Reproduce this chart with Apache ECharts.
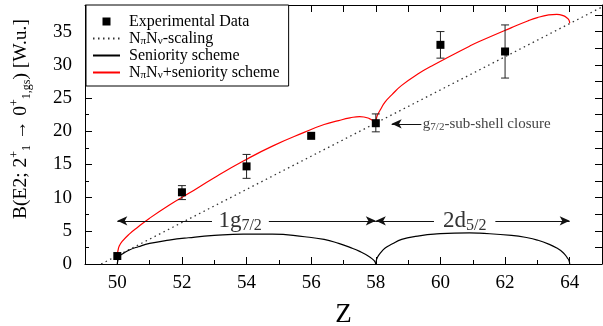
<!DOCTYPE html>
<html>
<head>
<meta charset="utf-8">
<script src="https://cdn.jsdelivr.net/npm/echarts@6/dist/echarts.min.js"></script>
<style>
  html, body { margin: 0; padding: 0; background: #fff; }
  #chart { width: 603px; height: 326px; }
</style>
</head>
<body>
<div id="chart"></div>
<script>
// ---------------- data ----------------
const expZ    = [50, 52, 54, 56, 58, 60, 62];
const expB    = [1.2, 10.8, 14.7, 19.3, 21.2, 33.0, 32.0];
const expLow  = [null, 9.7, 12.9, null, 19.9, 31.0, 28.0];
const expHigh = [null, 11.8, 16.5, null, 22.6, 35.0, 36.0];

const scalingZ = [49.5, 65];
const scalingB = [0, 38.7];

const sen1Z = [50, 50.02, 50.06, 50.15, 50.37, 50.65, 51, 51.6, 52.2, 53, 53.9, 54.8, 55.8, 56.4, 56.85, 57.2, 57.5, 57.8, 57.95, 58];
const sen1B = [0, 0.6, 1.1, 1.5, 2.1, 2.6, 3.1, 3.6, 3.95, 4.3, 4.5, 4.5, 4.1, 3.7, 3.1, 2.5, 1.9, 1.1, 0.5, 0];
const sen2Z = [58, 58.02, 58.05, 58.15, 58.29, 58.5, 58.8, 59.3, 59.8, 60.9, 61.2, 62.2, 62.7, 63, 63.35, 63.6, 63.8, 63.93, 63.98, 64];
const sen2B = [0, 0.6, 1.0, 1.7, 2.4, 3.0, 3.7, 4.2, 4.5, 4.7, 4.65, 4.3, 3.95, 3.6, 3.0, 2.4, 1.7, 0.9, 0.5, 0];

const red1B = [1.3, 2.0, 2.7, 3.4, 4.5, 5.6, 6.9, 8.85, 10.6, 13.0, 15.5, 17.75, 19.85, 21.0, 21.6, 22.0, 22.2, 21.9, 21.4, 21.1];
const red2B = [21.1, 21.9, 22.4, 23.3, 24.4, 25.5, 26.9, 28.6, 30.0, 32.8, 33.5, 35.6, 36.6, 37.1, 37.5, 37.6, 37.4, 37.0, 36.7, 36.3];

const xMajorTicks = [50, 52, 54, 56, 58, 60, 62, 64];

const NAME_EXP = 'Experimental Data';
const NAME_SCAL = 'NπNν-scaling';
const NAME_SEN = 'Seniority scheme';
const NAME_SUM = 'NπNν+seniority scheme';
// ----------------------------------------------------------------

const FONT = 'Liberation Serif';
const zip = (xs, ys) => xs.map((x, i) => [x, ys[i]]);
const errData = expZ.map((z, i) => [z, expLow[i], expHigh[i]]).filter(d => d[1] != null);

const chart = echarts.init(document.getElementById('chart'), null, { renderer: 'canvas' });

const hiddenSym = { symbol: 'circle', symbolSize: 0, showSymbol: false };
const clearItem = { color: 'rgba(0,0,0,0)', borderWidth: 0 };
const legendText = {
  fontFamily: FONT, fontSize: 16, lineHeight: 17, color: '#000',
  padding: [0, 0, 0, 4],
  rich: {
    sub: { fontFamily: FONT, fontSize: 11, lineHeight: 11, verticalAlign: 'bottom', color: '#000' }
  }
};

const option = {
  animation: false,
  backgroundColor: '#fff',
  textStyle: { fontFamily: FONT },
  grid: { left: 85, right: 1, top: 5, bottom: 62, outerBoundsMode: 'none', containLabel: false },
  legend: {
    left: 86, top: 5, orient: 'vertical',
    backgroundColor: '#fff', borderColor: '#000', borderWidth: 1, borderRadius: 0,
    padding: [8, 9, 5, 6], itemGap: 0, itemWidth: 27, itemHeight: 10,
    data: [NAME_EXP, NAME_SCAL, NAME_SEN, NAME_SUM],
    formatter: function (name) {
      if (name === NAME_SCAL) return 'N{sub|π}N{sub|ν}-scaling';
      if (name === NAME_SUM) return 'N{sub|π}N{sub|ν}+seniority scheme';
      return name;
    },
    textStyle: legendText,
    selectedMode: false
  },
  xAxis: [
    {
      type: 'value', min: 49, max: 65, position: 'bottom',
      name: 'Z', nameLocation: 'middle', nameGap: 37,
      nameTextStyle: { fontFamily: FONT, fontSize: 27, color: '#000' },
      axisLine: { lineStyle: { color: '#000', width: 1 } },
      axisTick: { inside: true, length: 7, customValues: xMajorTicks, lineStyle: { color: '#000' } },
      axisLabel: { customValues: xMajorTicks, margin: 10, fontFamily: FONT, fontSize: 19, color: '#000' },
      splitLine: { show: false }
    },
    {
      type: 'value', min: 49, max: 65, interval: 1, position: 'bottom',
      axisLine: { show: false },
      axisTick: { inside: true, length: 4, lineStyle: { color: '#000' } },
      axisLabel: { show: false }, splitLine: { show: false }
    },
    {
      type: 'value', min: 49, max: 65, interval: 1, position: 'top',
      axisLine: { lineStyle: { color: '#000', width: 1 } },
      axisTick: { inside: true, length: 7, lineStyle: { color: '#000' } },
      axisLabel: { show: false }, splitLine: { show: false }
    }
  ],
  yAxis: [
    {
      type: 'value', min: 0, max: 39, interval: 5, position: 'left',
      axisLine: { show: true, lineStyle: { color: '#000', width: 1 } },
      axisTick: { show: true, inside: true, length: 7, lineStyle: { color: '#000' } },
      minorTick: { show: true, splitNumber: 2, length: 4, lineStyle: { color: '#000' } },
      axisLabel: { margin: 13, showMaxLabel: false, fontFamily: FONT, fontSize: 19, color: '#000' },
      splitLine: { show: false }, minorSplitLine: { show: false }
    },
    {
      type: 'value', min: 0, max: 39, interval: 2.5, position: 'right',
      axisLine: { show: true, lineStyle: { color: '#000', width: 1 } },
      axisTick: { show: true, inside: true, length: 7, lineStyle: { color: '#000' } },
      axisLabel: { show: false }, splitLine: { show: false }
    }
  ],
  graphic: [
    {
      type: 'text', x: 21, y: 119, rotation: Math.PI / 2, silent: true,
      style: {
        text: 'B(E2; 2{sup|+}{sub|1} → 0{sup|+}{sub|1,gs}) [W.u.]',
        fontFamily: FONT, fontSize: 19.5, fill: '#000',
        align: 'center', verticalAlign: 'middle', lineHeight: 24,
        rich: {
          sup: { fontFamily: FONT, fontSize: 12, lineHeight: 12, verticalAlign: 'top', fill: '#000' },
          sub: { fontFamily: FONT, fontSize: 12, lineHeight: 12, verticalAlign: 'bottom', fill: '#000' }
        }
      }
    }
  ],
  series: [
    {
      name: NAME_SCAL, type: 'line', xAxisIndex: 0, yAxisIndex: 0,
      data: zip(scalingZ, scalingB), ...hiddenSym,
      lineStyle: { color: '#333', width: 1.3, type: [1.5, 3.5] },
      itemStyle: clearItem, silent: true, z: 2,
      markLine: {
        silent: true, symbolSize: [7, 10], animation: false,
        lineStyle: { color: '#111', width: 1, type: 'solid' },
        label: { show: false }, emphasis: { disabled: true },
        data: [
          [{ coord: [50, 6.5], symbol: 'arrow' }, { coord: [52.93, 6.5], symbol: 'none' }],
          [{ coord: [54.69, 6.5], symbol: 'none' }, { coord: [58, 6.5], symbol: 'arrow' }],
          [{ coord: [58, 6.5], symbol: 'arrow' }, { coord: [59.8, 6.5], symbol: 'none' }],
          [{ coord: [61.7, 6.5], symbol: 'none' }, { coord: [64, 6.5], symbol: 'arrow' }],
          [{ coord: [59.41, 21.1], symbol: 'none' }, { coord: [58.49, 21.1], symbol: 'arrow' }]
        ]
      },
      markPoint: {
        silent: true, symbol: 'rect', symbolSize: 1, itemStyle: { color: 'rgba(0,0,0,0)' },
        data: [
          {
            coord: [53.8, 6.5],
            label: {
              show: true, position: 'inside', formatter: '1g{sub|7/2}',
              fontFamily: FONT, fontSize: 23, lineHeight: 26, color: '#333',
              rich: { sub: { fontFamily: FONT, fontSize: 16, lineHeight: 16, verticalAlign: 'bottom', color: '#333' } }
            }
          },
          {
            coord: [60.75, 6.5],
            label: {
              show: true, position: 'inside', formatter: '2d{sub|5/2}',
              fontFamily: FONT, fontSize: 23, lineHeight: 26, color: '#333',
              rich: { sub: { fontFamily: FONT, fontSize: 16, lineHeight: 16, verticalAlign: 'bottom', color: '#333' } }
            }
          },
          {
            coord: [59.41, 21.1],
            label: {
              show: true, position: 'right', distance: 1, formatter: 'g{sub|7/2}-sub-shell closure',
              fontFamily: FONT, fontSize: 15, lineHeight: 17, color: '#444',
              rich: { sub: { fontFamily: FONT, fontSize: 11, lineHeight: 11, verticalAlign: 'bottom', color: '#444' } }
            }
          }
        ]
      }
    },
    {
      name: NAME_SEN, type: 'line', data: zip(sen1Z, sen1B), ...hiddenSym, smooth: 0.5,
      lineStyle: { color: '#000', width: 1.2 }, itemStyle: clearItem, silent: true, z: 3
    },
    {
      name: NAME_SEN, type: 'line', data: zip(sen2Z, sen2B), ...hiddenSym, smooth: 0.5,
      lineStyle: { color: '#000', width: 1.2 }, itemStyle: clearItem, silent: true, z: 3
    },
    {
      name: NAME_SUM, type: 'line', data: zip(sen1Z, red1B), ...hiddenSym, smooth: 0.5,
      lineStyle: { color: '#ff0000', width: 1.2 }, itemStyle: clearItem, silent: true, z: 3
    },
    {
      name: NAME_SUM, type: 'line', data: zip(sen2Z, red2B), ...hiddenSym, smooth: 0.5,
      lineStyle: { color: '#ff0000', width: 1.2 }, itemStyle: clearItem, silent: true, z: 3
    },
    {
      name: 'errorbars', type: 'custom', data: errData, silent: true, z: 4,
      encode: { x: 0, y: [1, 2] },
      renderItem: function (params, api) {
        const x = api.value(0);
        const top = api.coord([x, api.value(2)]);
        const bot = api.coord([x, api.value(1)]);
        const w = 4;
        const st = { stroke: '#222', lineWidth: 1 };
        return {
          type: 'group',
          children: [
            { type: 'line', shape: { x1: top[0], y1: top[1], x2: bot[0], y2: bot[1] }, style: st },
            { type: 'line', shape: { x1: top[0] - w, y1: top[1], x2: top[0] + w, y2: top[1] }, style: st },
            { type: 'line', shape: { x1: bot[0] - w, y1: bot[1], x2: bot[0] + w, y2: bot[1] }, style: st }
          ]
        };
      }
    },
    {
      name: NAME_EXP, type: 'line', data: zip(expZ, expB),
      symbol: 'rect', symbolSize: 8, showSymbol: true, showAllSymbol: true,
      lineStyle: { opacity: 0, width: 0 }, itemStyle: { color: '#000' }, silent: true, z: 5
    }
  ]
};

chart.setOption(option);
</script>
</body>
</html>
